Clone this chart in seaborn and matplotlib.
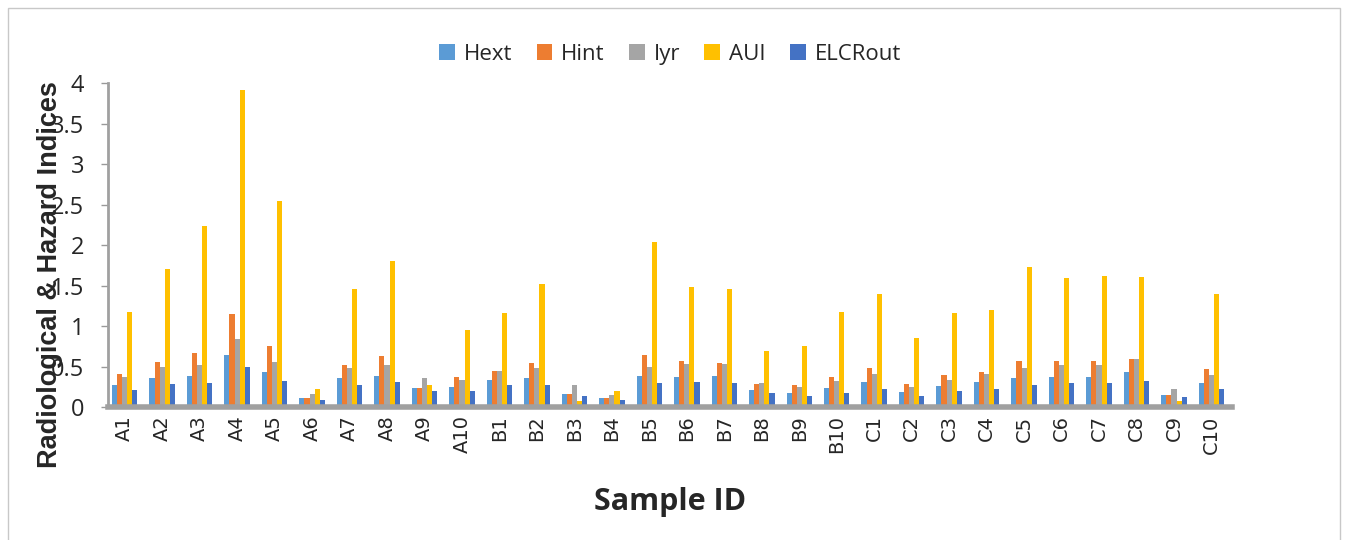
import matplotlib
matplotlib.use("Agg")
import matplotlib.pyplot as plt
import seaborn as sns
import pandas as pd
from matplotlib.patches import Rectangle

samples = ["A1","A2","A3","A4","A5","A6","A7","A8","A9","A10",
           "B1","B2","B3","B4","B5","B6","B7","B8","B9","B10",
           "C1","C2","C3","C4","C5","C6","C7","C8","C9","C10"]
hext = [0.27,0.36,0.39,0.65,0.43,0.11,0.36,0.39,0.24,0.25,
        0.34,0.36,0.16,0.11,0.39,0.37,0.39,0.21,0.18,0.24,
        0.31,0.19,0.26,0.31,0.36,0.37,0.37,0.43,0.15,0.30]
hint = [0.41,0.56,0.67,1.15,0.75,0.11,0.52,0.63,0.24,0.37,
        0.45,0.54,0.16,0.11,0.64,0.57,0.55,0.29,0.27,0.37,
        0.48,0.29,0.40,0.44,0.57,0.57,0.57,0.59,0.15,0.47]
iyr = [0.37,0.49,0.52,0.84,0.56,0.16,0.48,0.52,0.36,0.34,
       0.45,0.48,0.27,0.15,0.50,0.53,0.53,0.30,0.25,0.32,
       0.41,0.25,0.34,0.41,0.48,0.52,0.52,0.59,0.23,0.40]
aui = [1.18,1.71,2.24,3.92,2.54,0.23,1.46,1.81,0.27,0.95,
       1.16,1.52,0.07,0.20,2.04,1.48,1.46,0.69,0.75,1.18,
       1.40,0.86,1.16,1.20,1.73,1.59,1.62,1.61,0.07,1.40]
elcr = [0.21,0.28,0.30,0.50,0.32,0.09,0.27,0.31,0.20,0.20,
        0.27,0.27,0.14,0.09,0.30,0.31,0.30,0.18,0.14,0.18,
        0.23,0.14,0.20,0.23,0.27,0.30,0.30,0.32,0.13,0.23]
series_names = ["Hext", "Hint", "Iyr", "AUI", "ELCRout"]
colors = ["#5B9BD5", "#ED7D31", "#A5A5A5", "#FFC000", "#4472C4"]
yticks = [0, 0.5, 1, 1.5, 2, 2.5, 3, 3.5, 4]

rows = []
for name, vals in zip(series_names, [hext, hint, iyr, aui, elcr]):
    for s, v in zip(samples, vals):
        rows.append({"Sample": s, "Index": name, "Value": v})
df = pd.DataFrame(rows)

sns.set_theme(style="white")
plt.rcParams['font.family'] = ['Open Sans', 'DejaVu Sans']

fig = plt.figure(figsize=(13.48, 5.4), dpi=100)
ax = fig.add_axes([0.080, 0.246, 0.834, 0.600])

sns.barplot(data=df, x="Sample", y="Value", hue="Index",
            order=samples, hue_order=series_names, palette=colors,
            saturation=1, width=0.68, ax=ax, legend=True,
            edgecolor="none", linewidth=0)

ax.set_ylim(0, 4)
ax.set_xlim(-0.45, len(samples) - 0.45)
ax.set_yticks(yticks)
ax.set_yticklabels([f"{t:g}" for t in yticks], fontsize=17, family="Open Sans")
ax.tick_params(axis="y", length=5, width=1, color="#999999", direction="out", pad=12, left=True)
ax.tick_params(axis="x", length=0, pad=6)
for lbl in ax.get_xticklabels():
    lbl.set_rotation(90)
    lbl.set_fontsize(14)
    lbl.set_family("DejaVu Sans")

for sp in ["top", "right"]:
    ax.spines[sp].set_visible(False)
ax.spines["left"].set_color("#A0A0A0")
ax.spines["left"].set_linewidth(2)
ax.spines["bottom"].set_color("#A0A0A0")
ax.spines["bottom"].set_linewidth(4)

ax.set_xlabel("Sample ID", fontsize=22, fontweight="bold", labelpad=24)
ax.set_ylabel("Radiological & Hazard Indices", fontsize=19.5, fontweight="bold",
              family="Liberation Sans")
ax.yaxis.set_label_coords(-0.040, 0.41)

handles, labels = ax.get_legend_handles_labels()
ax.legend(handles, labels, loc="lower center", bbox_to_anchor=(0.5, 1.03),
          ncol=5, frameon=False, fontsize=16, handlelength=0.7, handleheight=0.7,
          columnspacing=1.1, handletextpad=0.4, borderaxespad=0)

fig.patches.append(Rectangle((8/1348, -0.01), 1332/1348, 1 - 8/540 + 0.01,
                             transform=fig.transFigure, fill=False,
                             edgecolor="#C8C8C8", linewidth=1))

fig.savefig("out.png", dpi=100)
